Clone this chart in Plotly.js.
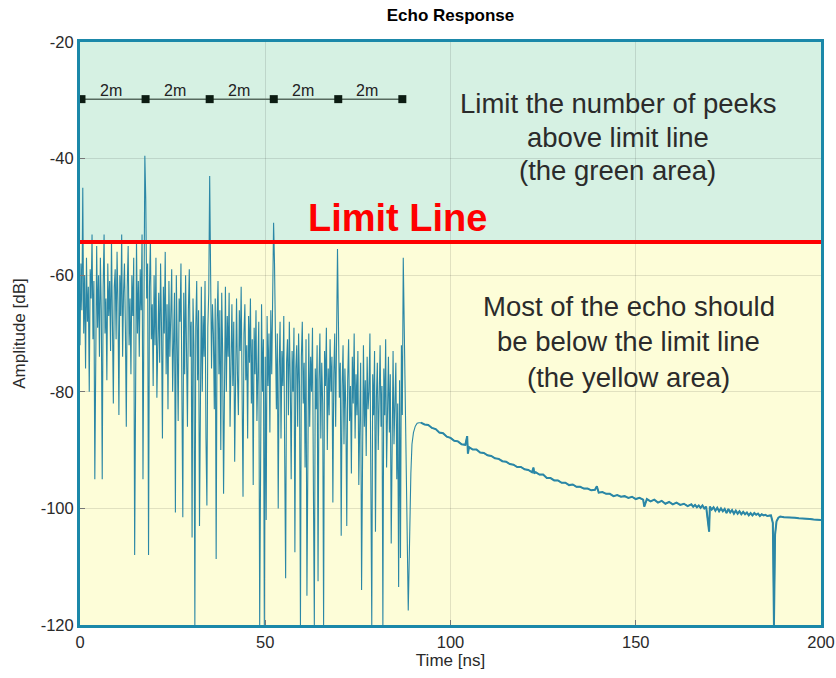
<!DOCTYPE html>
<html>
<head>
<meta charset="utf-8">
<script src="https://cdn.plot.ly/plotly-3.0.1.min.js"></script>
<style>html,body{margin:0;padding:0;background:#fff;}#chart{width:836px;height:678px;}</style>
</head>
<body>
<div id="chart"></div>
<script>
// ---- Data ----
// Noisy echo part: sampled every 0.25 ns starting at 0 ns
const noiseStartNs = 0;
const noiseStepNs = 0.25;
const noiseDb = [
  -72, -58, -66, -45, -70, -60, -76, -57, -68, -62, -80, -59, -64, -53, -71, -61,
  -95, -63, -55, -69, -60, -74, -57, -66, -95, -62, -53, -70, -64, -78, -58, -67,
  -61, -73, -54, -68, -82, -62, -59, -71, -56, -65, -84, -60, -67, -53, -74, -63,
  -58, -69, -86, -62, -55, -72, -64, -77, -60, -67, -57, -108, -63, -54, -70, -61,
  -74, -59, -66, -53, -95, -55, -39.5, -47, -64, -58, -108, -62, -54, -71, -65, -79,
  -60, -72, -57, -81, -66, -63, -75, -58, -69, -88, -62, -70, -56, -77, -65, -83,
  -61, -74, -67, -59, -80, -70, -63, -100.7, -60, -72, -85, -64, -68, -58, -75, -101.5,
  -63, -77, -60, -71, -86, -66, -59, -74, -68, -105, -64, -72, -120, -69, -61, -78,
  -66, -103, -70, -62, -80, -67, -74, -61, -88, -99.5, -69, -63, -43, -58, -76, -65,
  -70, -83, -64, -108.7, -68, -61, -77, -66, -90, -63, -73, -97.5, -69, -62, -80, -67,
  -74, -63, -86, -70, -65, -79, -68, -92, -71, -64, -77, -84, -66, -73, -62, -81,
  -98, -70, -65, -78, -72, -88, -67, -75, -64, -82, -71, -96, -69, -77, -66, -85,
  -73, -68, -120, -76, -65, -80, -71, -120, -74, -102, -67, -79, -70, -87, -66, -77,
  -62, -51, -58, -74, -83, -70, -100, -76, -68, -88, -73, -79, -67, -91, -112, -75,
  -71, -84, -68, -78, -95, -73, -80, -69, -107.5, -76, -72, -86, -70, -79, -120, -74,
  -68, -82, -75, -93, -71, -115, -77, -70, -86, -74, -80, -69, -97, -120, -76, -83,
  -72, -112.5, -78, -70, -88, -75, -82, -120, -73, -79, -69, -90, -76, -84, -71, -80,
  -74, -99, -77, -70, -86, -64, -55.5, -68, -81, -75, -104.7, -79, -72, -89, -76, -83,
  -103, -78, -71, -85, -79, -94, -74, -82, -70, -88, -77, -84, -73, -96, -80, -75,
  -114, -79, -72, -86, -78, -91, -74, -83, -80, -70, -88, -120, -77, -84, -73, -104,
  -81, -75, -90, -78, -72, -86, -79, -120, -76, -84, -71, -93, -80, -74, -87, -77,
  -106, -79, -73, -89, -81, -75, -95, -82, -113.5, -78, -108.5, -72, -84, -57
];

// Decaying tail after the echo burst
const tailNs = [
  88.6, 89.0, 89.3, 89.6, 90.0, 90.5, 91.0, 91.5, 92, 93, 94, 95, 96, 97, 98, 99,
  100, 101, 102, 103, 104, 104.5, 104.7, 105, 106, 107, 108, 109, 110, 111, 112, 113,
  114, 115, 116, 117, 118, 119, 120, 121, 122, 122.4, 122.6, 123, 124, 125, 126, 127,
  128, 129, 130, 131, 132, 133, 134, 135, 136, 137, 138, 139, 139.5, 140, 141, 142,
  143, 144, 145, 146, 147, 148, 149, 150, 151, 152, 152.3, 153, 154, 155, 156, 157,
  158, 159, 160, 161, 162, 163, 164, 165, 165.5, 166, 166.5, 167, 167.5, 168, 168.5, 169,
  169.8, 170, 170.5, 171, 171.5, 172, 172.5, 173, 173.5, 174, 174.5, 175, 175.5, 176, 176.5, 177,
  177.5, 178, 178.5, 179, 179.5, 180, 180.5, 181, 181.5, 182, 182.5, 183, 183.5, 184, 184.5, 185,
  185.5, 186, 186.5, 187, 187.3, 187.6, 188, 188.5, 189, 190, 191, 192, 193, 194, 195, 196,
  197, 198, 199, 200
];
const tailDb = [
  -117.5, -103, -94, -89, -87, -85.9, -85.4, -85.3, -85.3, -85.6, -85.7, -86.2, -86.4, -87.0, -87.1, -87.7,
  -87.9, -88.4, -88.5, -89.0, -89.1, -87.6, -90.6, -89.5, -89.9, -89.9, -90.4, -90.5, -90.9, -91.0, -91.4, -91.5,
  -91.9, -92.0, -92.4, -92.5, -92.9, -92.9, -93.3, -93.4, -93.8, -93.0, -94.0, -93.8, -94.2, -94.2, -94.8, -94.8,
  -95.2, -95.2, -95.6, -95.6, -96.0, -95.9, -96.3, -96.3, -96.6, -96.6, -96.9, -96.8, -96.2, -97.3, -97.2, -97.5,
  -97.5, -97.9, -97.7, -98.0, -97.9, -98.2, -98.0, -98.4, -98.2, -98.5, -99.7, -98.4, -98.8, -98.5, -99.0, -98.7,
  -99.2, -98.9, -99.3, -99.0, -99.4, -99.2, -99.6, -99.3, -99.7, -99.4, -99.8, -99.5, -99.9, -99.5, -100.0, -99.7,
  -104, -99.7, -100.2, -99.8, -100.4, -99.9, -100.5, -100.0, -100.5, -100.1, -100.8, -100.1, -100.7, -100.3, -100.9, -100.4,
  -100.9, -100.5, -101.0, -100.6, -101.0, -100.7, -101.2, -100.8, -101.2, -100.8, -101.1, -100.9, -101.3, -101.0, -101.2, -101.1,
  -101.3, -101.2, -101.2, -102.5, -120, -104.5, -102.2, -101.6, -101.4, -101.5, -101.5, -101.6, -101.6, -101.7, -101.7, -101.8,
  -101.8, -101.9, -101.9, -102.0
];

// Limit line level and distance scale (2 m spacing markers)
const limitDb = -54.3;
const scaleMarkNs = [0.4, 17.7, 35.0, 52.3, 69.7, 87.0];
const scaleLevelDb = -29.8;
const scaleLabels = ['2m', '2m', '2m', '2m', '2m'];

// Axis ticks (labels use a plain hyphen as in the reference)
const xTickVals = [0, 50, 100, 150, 200];
const xTickText = ['0', '50', '100', '150', '200'];
const yTickVals = [-120, -100, -80, -60, -40, -20];
const yTickText = ['-120', '-100', '-80', '-60', '-40', '-20'];

const noteAbove = ['Limit the number of peeks', 'above limit line', '(the green area)'];
const noteBelow = ['Most of the echo should', 'be below the limit line', '(the yellow area)'];

// ---- Build traces ----
const echoX = noiseDb.map((_, i) => noiseStartNs + i * noiseStepNs).concat(tailNs);
const echoY = noiseDb.concat(tailDb);
const smoothFrom = tailNs.indexOf(92);

const FONT = 'Liberation Sans, Arial, Helvetica, sans-serif';
const TEAL = '#1b88a9';

const traces = [
  {
    x: echoX, y: echoY, type: 'scatter', mode: 'lines',
    line: {color: '#2b87a6', width: 1.1},
    hoverinfo: 'skip', showlegend: false
  },
  {
    x: tailNs.slice(smoothFrom), y: tailDb.slice(smoothFrom), type: 'scatter', mode: 'lines',
    line: {color: '#2b87a6', width: 2},
    hoverinfo: 'skip', showlegend: false
  },
  {
    x: scaleMarkNs, y: scaleMarkNs.map(() => scaleLevelDb), type: 'scatter', mode: 'lines+markers',
    line: {color: '#566a5e', width: 1.5},
    marker: {symbol: 'square', size: 8, color: '#0c1c12'},
    hoverinfo: 'skip', showlegend: false, cliponaxis: true
  }
];

const annotations = [];
scaleLabels.forEach((lab, i) => {
  annotations.push({
    x: (scaleMarkNs[i] + scaleMarkNs[i + 1]) / 2, y: scaleLevelDb, xref: 'x', yref: 'y',
    text: lab, showarrow: false, yanchor: 'bottom', xshift: -3, yshift: -2,
    font: {family: FONT, size: 16, color: '#222'}
  });
});
const aboveY = [-30.6, -36.3, -42.0];
noteAbove.forEach((t, i) => annotations.push({
  x: 145.1, y: aboveY[i], xref: 'x', yref: 'y', text: t, showarrow: false,
  font: {family: FONT, size: 27.5, color: '#2b2b2b'}
}));
const belowY = [-65.3, -71.3, -77.5];
noteBelow.forEach((t, i) => annotations.push({
  x: 148.1, y: belowY[i], xref: 'x', yref: 'y', text: t, showarrow: false,
  font: {family: FONT, size: 27.5, color: '#2b2b2b'}
}));
annotations.push({
  x: 85.7, y: -50.2, xref: 'x', yref: 'y', text: '<b>Limit Line</b>', showarrow: false,
  font: {family: FONT, size: 38, color: '#ff0000'}
});

const axisCommon = {
  showgrid: true, gridcolor: 'rgba(0,0,0,0.11)', gridwidth: 1,
  showline: true, linecolor: TEAL, linewidth: 3, mirror: true,
  ticks: 'inside', ticklen: 5, tickcolor: '#777', tickwidth: 1,
  zeroline: false, tickmode: 'array',
  tickfont: {family: FONT, size: 16.5, color: '#2a2a2a'}
};

const layout = {
  width: 836, height: 678,
  margin: {l: 80, r: 15, t: 42, b: 53},
  paper_bgcolor: '#ffffff',
  plot_bgcolor: '#fdfdd8',
  font: {family: FONT, color: '#222'},
  title: {
    text: '<b>Echo Response</b>', font: {family: FONT, size: 17, color: '#000'},
    xref: 'paper', x: 0.5, xanchor: 'center', yref: 'container', y: 1 - 15 / 678, yanchor: 'middle'
  },
  xaxis: Object.assign({}, axisCommon, {
    range: [0, 200], tickvals: xTickVals, ticktext: xTickText,
    title: {text: 'Time [ns]', font: {family: FONT, size: 17, color: '#2a2a2a'}, standoff: 4}
  }),
  yaxis: Object.assign({}, axisCommon, {
    range: [-120, -20], tickvals: yTickVals, ticktext: yTickText,
    title: {text: 'Amplitude [dB]', font: {family: FONT, size: 17, color: '#2a2a2a'}, standoff: 11}
  }),
  shapes: [
    {type: 'rect', xref: 'x', yref: 'y', x0: 0, x1: 200, y0: limitDb, y1: -20,
     fillcolor: '#d6f1e3', line: {width: 0}, layer: 'below'},
    {type: 'line', xref: 'x', yref: 'y', x0: 0, x1: 200, y0: limitDb, y1: limitDb,
     line: {color: '#ff0000', width: 4}, layer: 'above'}
  ],
  annotations: annotations,
  showlegend: false
};

Plotly.newPlot('chart', traces, layout, {displayModeBar: false, staticPlot: true});
</script>
</body>
</html>
